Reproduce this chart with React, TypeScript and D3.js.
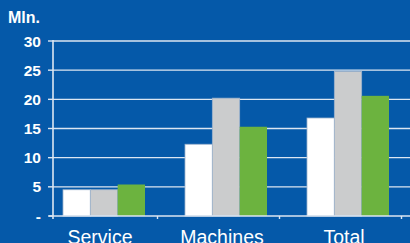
import React from "react";
import * as d3 from "d3";

// values
const categories = ["Service", "Machines", "Total"];
const seriesNames = ["a", "b", "c"];
const seriesA = [4.5, 12.3, 16.8];
const seriesB = [4.5, 20.2, 24.8];
const seriesC = [5.4, 15.3, 20.6];
const yTicks = [0, 5, 10, 15, 20, 25, 30];
const colors = ["#ffffff", "#cbcccd", "#6cb33f"];

const W = 410, H = 243;

const App: React.FC = () => {
  const values = [seriesA, seriesB, seriesC];
  const x = d3.scaleBand().domain(categories).range([43, 409]);
  const inner = d3.scaleBand().domain(seriesNames).range([0, 82]);
  const y = d3.scaleLinear().domain([0, 30]).range([216, 41]);
  const left = 53;

  return (
    <svg width={W} height={H} style={{ position: "absolute", left: 0, top: 0, display: "block" }}
      fontFamily="'Liberation Sans', Arial, sans-serif">
      <rect width={W} height={H} fill="#0559a9" />
      <text x={8} y={23} fill="#fff" fontSize={16} fontWeight="bold">Mln.</text>
      {/* gridlines + y labels */}
      {yTicks.map((t) => (
        <g key={t}>
          {t > 0 && <line x1={left} x2={W} y1={y(t)} y2={y(t)} stroke="#dce6f2" strokeWidth={1.4} />}
          <line x1={left - 5} x2={left} y1={y(t)} y2={y(t)} stroke="#dce6f2" strokeWidth={1.4} />
          <text x={41} y={y(t) + 5.5} fill="#fff" fontSize={15.5} fontWeight="bold" textAnchor="end">
            {t === 0 ? "-" : t}
          </text>
        </g>
      ))}
      {/* bars */}
      {categories.map((c, i) => (
        <g key={c} transform={`translate(${x(c)! + (x.bandwidth() - 82) / 2},0)`}>
          {seriesNames.map((s, j) => (
            <rect key={s} x={inner(s)} width={inner.bandwidth()} y={y(values[j][i])}
              height={y(0) - y(values[j][i])} fill={colors[j]}
              stroke={j === 2 ? "none" : "#9fb3cc"} strokeWidth={0.8} />
          ))}
        </g>
      ))}
      {/* axes */}
      <line x1={left} x2={left} y1={y(30) - 1} y2={y(0) + 3} stroke="#dce6f2" strokeWidth={1.6} />
      <line x1={left - 4} x2={W} y1={y(0)} y2={y(0)} stroke="#dce6f2" strokeWidth={1.6} />
      {categories.map((c) => (
        <line key={c} x1={x(c)! + x.step() - 7.5} x2={x(c)! + x.step() - 7.5} y1={y(0)} y2={y(0) + 3}
          stroke="#dce6f2" strokeWidth={1.4} />
      ))}
      {categories.map((c) => (
        <text key={c} x={x(c)! + x.bandwidth() / 2 - 4} y={243.5} fill="#fff" fontSize={19.5} textAnchor="middle">
          {c}
        </text>
      ))}
    </svg>
  );
};

export default App;
